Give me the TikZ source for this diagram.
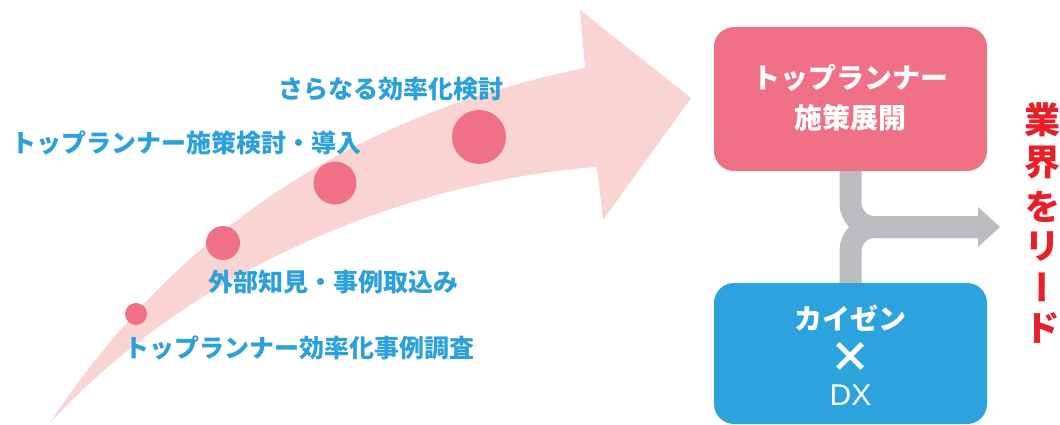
\documentclass[tikz,border=0pt]{standalone}
\usepackage{fontspec}
\newfontfamily\jp{Noto Sans CJK JP}
\newfontfamily\jpv{Noto Sans CJK JP}[RawFeature=+vert]
\newfontfamily\lat{Liberation Sans}
\definecolor{bandpink}{HTML}{FAD4D2}
\definecolor{dotpink}{HTML}{F07085}
\definecolor{labelblue}{HTML}{2BA0DA}
\definecolor{boxblue}{HTML}{2CA3DC}
\definecolor{conngray}{HTML}{BCBDC0}
\definecolor{leadred}{HTML}{E81E28}
\tikzset{
  dot/.style={circle, fill=dotpink, inner sep=0pt},
  lbl/.style={text=labelblue, inner sep=0pt, font=\jp\bfseries\fontsize{25}{25}\selectfont},
  boxbase/.style={rounded corners=20pt, minimum width=273pt, inner sep=0pt, text=white,
    align=center},
  pinkbox/.style={boxbase, fill=dotpink},
  bluebox/.style={boxbase, fill=boxblue},
  boxtxt/.style={inner sep=0pt, text=white, font=\jp\bfseries\fontsize{28}{28}\selectfont},
  conn/.style={draw=conngray, line width=22pt, rounded corners=24pt},
  redch/.style={inner sep=0pt, text=leadred, font=\jpv\bfseries\fontsize{36}{36}\selectfont},
}
\begin{document}
\begin{tikzpicture}[x=1pt,y=-1pt]
\useasboundingbox (0,0) rectangle (1060,425);
% big curved arrow
\fill[bandpink] (50,423) .. controls (190,210) and (380,110) .. (585,68)
  -- (580,10) -- (691,98) -- (603,220) -- (597,167)
  .. controls (420,180) and (200,260) .. (50,423) -- cycle;
% dots
\node[dot, minimum size=22pt] (d1) at (136,314) {};
\node[dot, minimum size=34pt] (d2) at (223,243) {};
\node[dot, minimum size=43pt] (d3) at (335,183) {};
\node[dot, minimum size=54pt] (d4) at (479,137) {};
% labels
\node[lbl] (l4) at (391,89) {さらなる効率化検討};
\node[lbl] (l3) at (186,143) {トップランナー施策検討・導入};
\node[lbl] (l2) at (333,282) {外部知見・事例取込み};
\node[lbl] (l1) at (299,348) {トップランナー効率化事例調査};
% boxes
\node[pinkbox, minimum height=144pt] (pbox) at (850.5,99) {};
\node[bluebox, minimum height=141pt] (bbox) at (850.5,353.5) {};
\node[boxtxt] (pt1) at (850.5,78) {トップランナー};
\node[boxtxt] (pt2) at (850.5,118) {施策展開};
\node[boxtxt] (bt1) at (850.5,318) {カイゼン};
\node[boxtxt, font=\jp\bfseries\fontsize{42}{42}\selectfont] (bt2) at (850.5,357) {×};
\node[boxtxt, font=\lat\fontsize{30}{30}\selectfont] (bt3) at (850.5,395) {DX};
% connector
\coordinate (hb) at (978,227);
\coordinate (tip) at (1000,227);
\draw[conn] (pbox.south) |- (hb);
\draw[conn] (bbox.north) |- (hb);
\fill[conngray] ([yshift=20pt]hb) -- (tip) -- ([yshift=-20pt]hb) -- cycle;
% vertical red text
\node[redch] (r1) at (1042,120) {業};
\node[redch] (r2) at (1042,163) {界};
\node[redch] (r3) at (1042,207) {を};
\node[redch] (r4) at (1042,247) {リ};
\node[redch] (r5) at (1042,287) {ー};
\node[redch] (r6) at (1042,328) {ド};
\end{tikzpicture}
\end{document}
